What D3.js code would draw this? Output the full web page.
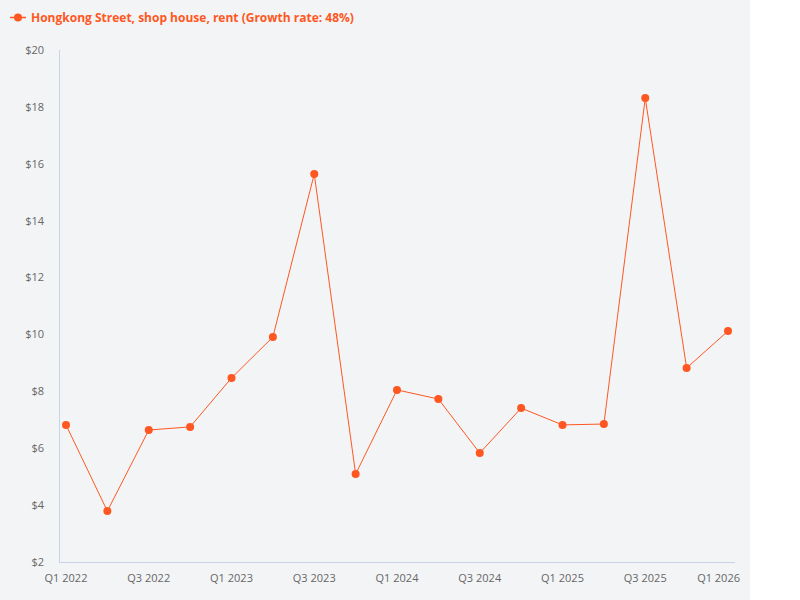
<!DOCTYPE html>
<html>
<head>
<meta charset="utf-8">
<script src="https://cdn.jsdelivr.net/npm/d3@7"></script>
<style>
  html, body { margin: 0; padding: 0; background: #ffffff; }
  svg { display: block; font-family: "Open Sans", "Noto Sans", sans-serif; }
</style>
</head>
<body>
<svg id="chart" width="800" height="600"></svg>
<script>
const categories = ["Q1 2022","Q2 2022","Q3 2022","Q4 2022","Q1 2023","Q2 2023","Q3 2023","Q4 2023",
  "Q1 2024","Q2 2024","Q3 2024","Q4 2024","Q1 2025","Q2 2025","Q3 2025","Q4 2025","Q1 2026"];
const rentValues = [6.82, 3.79, 6.64, 6.75, 8.47, 9.91, 15.64, 5.09, 8.05, 7.73, 5.83, 7.41, 6.82, 6.85, 18.31, 8.82, 10.12];
const yTicks = [2, 4, 6, 8, 10, 12, 14, 16, 18, 20];
const xTickLabels = ["Q1 2022","Q3 2022","Q1 2023","Q3 2023","Q1 2024","Q3 2024","Q1 2025","Q3 2025","Q1 2026"];
const seriesName = "Hongkong Street, shop house, rent (Growth rate: 48%)";

const color = "#ff5722";
const svg = d3.select("#chart");

svg.append("rect").attr("x", 0).attr("y", 0).attr("width", 750).attr("height", 600).attr("fill", "#f3f4f6");

const x = d3.scalePoint().domain(categories).range([66, 728]);
const y = d3.scaleLinear().domain([2, 20]).range([562, 50]);

// axes lines
svg.append("line").attr("x1", 59.5).attr("x2", 59.5).attr("y1", y(20)).attr("y2", y(2))
  .attr("stroke", "#c8d4e6").attr("stroke-width", 1);
svg.append("line").attr("x1", 59).attr("x2", 735).attr("y1", y(2) + 0.5).attr("y2", y(2) + 0.5)
  .attr("stroke", "#c8d4e6").attr("stroke-width", 1);

// y ticks
svg.append("g").selectAll("text").data(yTicks).join("text")
  .attr("x", 44).attr("y", d => y(d)).attr("dy", "0.35em")
  .attr("text-anchor", "end").attr("font-size", 11).attr("fill", "#666666")
  .text(d => "$" + d);

// x ticks
svg.append("g").selectAll("text").data(xTickLabels).join("text")
  .attr("x", (d, i) => i === xTickLabels.length - 1 ? 740 : x(d))
  .attr("y", 578).attr("dy", "0.35em")
  .attr("text-anchor", (d, i) => i === xTickLabels.length - 1 ? "end" : "middle")
  .attr("font-size", 11).attr("fill", "#666666")
  .text(d => d);

// line
const line = d3.line().x((d, i) => x(categories[i])).y(d => y(d));
svg.append("path").datum(rentValues).attr("d", line)
  .attr("fill", "none").attr("stroke", color).attr("stroke-width", 1);

// points
svg.append("g").selectAll("circle").data(rentValues).join("circle")
  .attr("cx", (d, i) => x(categories[i])).attr("cy", d => y(d)).attr("r", 4)
  .attr("fill", color);

// legend
const lg = svg.append("g");
lg.append("line").attr("x1", 10).attr("x2", 26).attr("y1", 17.5).attr("y2", 17.5)
  .attr("stroke", color).attr("stroke-width", 1.5);
lg.append("circle").attr("cx", 18).attr("cy", 17.5).attr("r", 4).attr("fill", color);
lg.append("text").attr("x", 31).attr("y", 17.5).attr("dy", "0.35em")
  .attr("font-size", 12).attr("font-weight", "bold").attr("fill", color)
  .text(seriesName);
</script>
</body>
</html>
